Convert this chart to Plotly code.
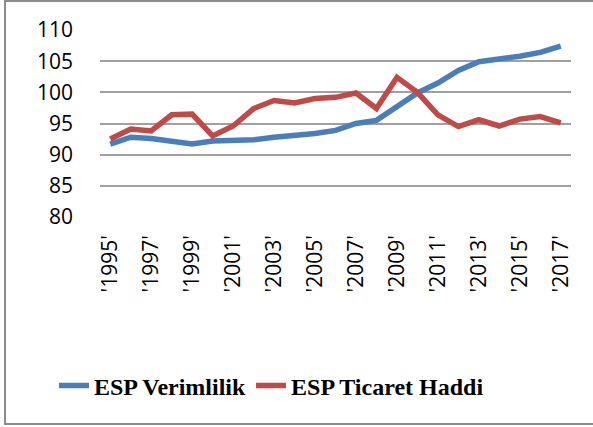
import plotly.graph_objects as go

years = [str(y) for y in range(1995, 2018)]
year_labels = ["'" + y + "'" for y in years]
tick_labels = year_labels[::2]

verimlilik = [91.7, 92.8, 92.6, 92.1, 91.7, 92.2, 92.3, 92.4, 92.8, 93.0, 93.4, 93.9,
              95.0, 95.5, 97.8, 99.9, 101.5, 103.5, 104.9, 105.3, 105.8, 106.4, 107.4]
ticaret = [92.5, 94.1, 93.8, 96.4, 96.5, 93.0, 94.6, 97.4, 98.7, 98.3, 99.0, 99.2,
           99.9, 97.4, 102.4, 100.0, 96.4, 94.5, 95.6, 94.6, 95.7, 96.1, 95.1]

series_names = ["<b>ESP Verimlilik</b>", "<b>ESP Ticaret Haddi</b>"]
colors = ["#4A7EBB", "#BE4B48"]

fig = go.Figure()
for name, vals, c in zip(series_names, [verimlilik, ticaret], colors):
    fig.add_trace(go.Scatter(x=year_labels, y=vals, mode="lines", name=name,
                             line=dict(color=c, width=5.5)))

W, H = 593, 427
L, R, T, B = 100, 22, 30, 210
pw, ph = W - L - R, H - T - B

def px(x):
    return (x - L) / pw

def py(y):
    return (H - B - y) / ph

fig.update_layout(
    width=W, height=H,
    margin=dict(l=L, r=R, t=T, b=B, autoexpand=False),
    paper_bgcolor="white", plot_bgcolor="white",
    showlegend=True,
    legend=dict(orientation="h", x=px(54), xanchor="left",
                y=py(386), yanchor="middle",
                font=dict(family="Liberation Serif", size=24, color="black"),
                itemwidth=30, tracegroupgap=0,
                traceorder="normal"),
    xaxis=dict(type="category", tickmode="array", tickvals=tick_labels,
               ticktext=tick_labels, tickangle=-90, showgrid=False,
               showline=False, ticks="", ticklabelstandoff=13,
               tickfont=dict(family="Open Sans", size=21, color="black"),
               range=[-0.5, len(years) - 0.5]),
    yaxis=dict(range=[80, 110], tickvals=[80, 85, 90, 95, 100, 105, 110],
               showgrid=True, gridcolor="#A0A0A0", gridwidth=1.8,
               zeroline=False, showline=False, ticks="",
               ticklabelstandoff=26,
               tickfont=dict(family="Open Sans", size=21, color="black")),
    shapes=[
        dict(type="rect", xref="paper", yref="paper",
             x0=px(5), x1=px(600), y0=py(424), y1=py(1),
             line=dict(color="#8C8C8C", width=2), fillcolor="rgba(0,0,0,0)",
             layer="below"),
    ],
)

fig.write_html("out.html", config={"displayModeBar": False},
               post_script="document.body.style.margin='0';document.body.style.padding='0';")
